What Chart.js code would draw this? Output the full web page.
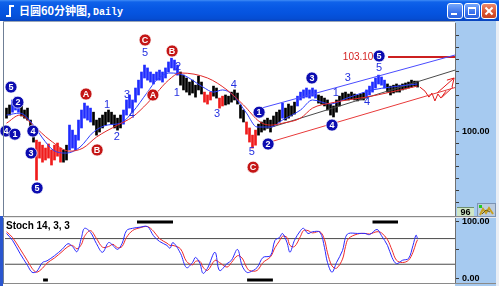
<!DOCTYPE html>
<html>
<head>
<meta charset="utf-8">
<script src="https://cdn.jsdelivr.net/npm/chart.js@4.4.1/dist/chart.umd.min.js"></script>
<style>
html,body{margin:0;padding:0;}
body{width:499px;height:286px;overflow:hidden;position:relative;background:#fff;}
#tb{position:absolute;left:0;top:0;width:499px;height:21px;
 background:linear-gradient(to bottom,#3f8cf6 0px,#0f62ea 2px,#0758e4 8px,#0553de 14px,#054dd2 19px,#0a42b8 21px);}
#ttl{position:absolute;left:19px;top:3px;color:#fff;font:bold 11px "Noto Sans CJK SC",sans-serif;line-height:15px;white-space:nowrap;}
#ttl .d{font:bold 10px "Liberation Mono",monospace;}
.ic{position:absolute;background:#fff;}
.btn{position:absolute;top:3px;width:14px;height:14px;border:1px solid #fff;border-radius:3px;
 background:linear-gradient(#76a8fb,#3a72ec 60%,#2b62e0);}
.btn.cl{background:linear-gradient(#ec8a6c,#d9532f 60%,#c64221);}
.g{position:absolute;background:#fff;}
#lf{position:absolute;left:0;top:216px;width:3px;height:70px;background:#2a56cf;}
#lline{position:absolute;left:3px;top:21px;width:1px;height:262px;background:#6f7f96;}
#tline{position:absolute;left:3px;top:21px;width:452px;height:1px;background:#9aa6b6;}
#sep1{position:absolute;left:3px;top:216px;width:493px;height:1px;background:#8a8a8a;}
#sep2{position:absolute;left:3px;top:217px;width:493px;height:1px;background:#e8e8e8;}
#bot{position:absolute;left:3px;top:283px;width:493px;height:1px;background:#8a8a8a;}
#rf{position:absolute;left:496px;top:21px;width:3px;height:265px;background:#e9eef5;}
canvas{position:absolute;left:0;}
#lo{position:absolute;left:457px;top:207px;width:17px;height:8px;background:#cfe6c6;border-top:1px solid #6f8f6f;
 font:bold 9px "Liberation Sans",sans-serif;line-height:9px;text-align:center;color:#000;}
#ico2{position:absolute;left:477px;top:203px;width:17px;height:12px;background:#b9cbe0;border:1px solid #7b93b3;}
</style>
</head>
<body>
<div id="tb">
  <div class="ic" style="left:9px;top:5px;width:2px;height:12px;"></div>
  <div class="ic" style="left:11px;top:5px;width:3px;height:2px;"></div>
  <div class="ic" style="left:6px;top:15px;width:3px;height:2px;"></div>
  <div id="ttl">日圆60分钟图, <span class="d">Daily</span></div>
  <div class="btn" style="left:447px;"><div class="g" style="left:3px;top:9px;width:6px;height:2px;"></div></div>
  <div class="btn" style="left:464px;"><div class="g" style="left:3px;top:3px;width:8px;height:2px;"></div>
    <div style="position:absolute;left:3px;top:3px;width:6px;height:6px;border:1px solid #fff;"></div></div>
  <div class="btn cl" style="left:481px;">
    <div class="g" style="left:2px;top:6px;width:10px;height:2px;transform:rotate(45deg);"></div>
    <div class="g" style="left:2px;top:6px;width:10px;height:2px;transform:rotate(-45deg);"></div></div>
</div>
<div id="lf"></div>
<div id="rf"></div>
<canvas id="main" width="499" height="197" style="top:21px"></canvas>
<canvas id="stoch" width="499" height="69" style="top:217px"></canvas>
<div id="lline"></div>
<div id="tline"></div>
<div id="sep1"></div>
<div id="sep2"></div>
<div id="bot"></div>
<div id="lo">96</div>
<div id="ico2">
 <svg width="17" height="12" style="position:absolute;left:0;top:0">
  <rect x="1" y="1" width="3" height="3" fill="#22cc22"/>
  <polyline points="2,11 5,5 8,9 11,4 15,10" fill="none" stroke="#c8a020" stroke-width="2"/>
  <polyline points="4,10 8,6 12,8" fill="none" stroke="#6a5a10" stroke-width="1"/>
 </svg>
</div>
<script>
// ---------------- DATA ----------------
const barCount = 150; // category slots incl. projection area
const highs = [100.96,101.09,101.30,101.42,101.30,101.05,100.88,100.96,100.46,100.13,
 99.62,99.54,99.41,99.29,99.46,99.21,99.41,99.50,99.29,99.21,
 99.41,100.25,100.04,99.83,100.46,100.88,101.17,101.05,100.96,100.79,
 100.46,100.54,100.67,100.79,100.88,100.79,100.67,100.54,100.67,100.88,
 101.30,101.51,101.30,101.80,102.13,102.47,102.76,102.64,102.47,102.38,
 102.47,102.55,102.47,102.64,102.89,103.05,102.97,102.76,102.47,102.34,
 102.22,102.05,102.13,101.92,102.30,102.05,101.63,101.51,101.63,101.88,
 101.80,101.38,101.46,101.51,101.46,101.63,101.72,101.59,101.09,100.88,
 100.38,100.13,99.83,100.04,100.29,100.38,100.46,100.54,100.46,100.63,
 100.79,100.88,101.17,100.96,101.13,101.05,101.21,101.46,101.63,101.72,
 101.80,101.72,101.80,101.72,101.51,101.46,101.38,101.30,101.13,101.05,
 101.30,101.46,101.59,101.63,101.55,101.63,101.55,101.51,101.55,101.59,
 101.72,101.88,102.05,102.22,102.34,102.26,102.13,101.97,101.88,101.92,
 101.97,101.92,101.97,102.01,102.05,102.13,102.09,102.09];
const lows = [100.54,100.67,100.79,100.88,100.79,100.63,100.54,100.46,99.83,99.54,
 97.95,98.87,98.70,98.79,98.87,98.58,98.79,98.95,98.70,98.70,
 98.79,99.21,99.29,99.21,99.62,100.13,100.54,100.46,100.38,100.25,
 99.83,99.96,100.13,100.25,100.38,100.29,100.13,100.04,100.13,100.29,
 100.67,100.96,100.79,101.21,101.51,101.80,102.22,102.13,102.05,101.97,
 102.13,102.13,102.05,102.22,102.47,102.64,102.55,102.34,101.92,101.72,
 101.63,101.51,101.59,101.42,101.72,101.55,101.21,101.13,101.30,101.46,
 101.38,100.96,101.05,101.09,101.13,101.21,101.30,101.13,100.54,100.38,
 99.87,99.54,99.29,99.41,99.83,99.96,100.04,100.13,99.96,100.21,
 100.29,100.38,100.54,100.46,100.54,100.63,100.71,101.05,101.30,101.38,
 101.42,101.38,101.46,101.38,101.17,101.13,101.05,100.88,100.67,100.59,
 100.79,101.05,101.30,101.30,101.30,101.34,101.30,101.26,101.30,101.30,
 101.38,101.51,101.63,101.80,101.97,101.92,101.80,101.63,101.51,101.59,
 101.63,101.63,101.72,101.76,101.80,101.84,101.88,101.84];
// wave phase per bar: run-length [phase, count]  (k = neutral, b = impulse up, r = decline)
const phaseRuns = [['k',2],['b',3],['k',5],['r',9],['k',2],['b',8],['k',10],['b',19],['k',8],['r',3],
 ['k',2],['r',2],['k',7],['r',4],['k',8],['b',1],['k',4],['b',7],['k',16],['b',7],['k',11]];

const maSlowIdx = [0,4.5,8.8,14.5,21,25.5,30,37,42,47,50,54,58,67,73.5,79,84.5,88,92,98,102,108,113.5,120,128,135.5,137];
const maSlow    = [100.33,100.67,100.25,99.62,99.16,99.29,99.75,100.25,100.59,101.17,101.59,102.13,102.43,102.22,101.72,101.09,100.38,100.25,100.33,100.54,100.96,101.17,101.30,101.42,101.63,101.84,101.88];
const maFastIdx = [0,4.5,9,12,15.5,20,24.5,29,33.5,38,42,47,50,54.5,59,65.5,69,72,75.5,80,83.5,88,92,98,102,108,113.5,122,128,137];
const maFast    = [100.67,100.75,100.25,99.71,99.21,99.08,99.33,99.96,100.25,100.33,100.79,101.63,102.13,102.43,102.34,101.84,101.63,101.72,101.51,100.75,100.17,100.17,100.46,100.88,101.30,101.13,101.38,101.72,101.84,101.97];

const upperChannel = [[83.8,100.92],[149.5,103.18]];
const midChannel   = [[86.2,100.08],[149.5,102.55]];
const lowerChannel = [[87.8,99.54],[149.5,101.82]];
const targetPrice  = 103.10;
const targetSpan   = [127.2,149.5];
const zigIdx   = [137.8,139.5,140.8,141.8,142.8,143.8,144.8,146.5];
const zigPrice = [101.84,101.67,101.42,101.59,101.26,101.55,101.38,101.67];
const arrowA = [[143.5,101.59],[149.2,102.22]];
const arrowB = [[145.2,101.42],[148.8,101.84]];
const arrowHead = [[146.8,102.13],[149.2,102.22],[148.5,101.84]];

const blueCircles = [[1.5,101.84,'5'],[3.8,101.21,'2'],[-0.2,100.0,'4'],[2.8,99.87,'1'],[8.8,100.0,'4'],
 [8.2,99.08,'3'],[10.2,97.62,'5'],[84.2,100.79,'1'],[87.2,99.46,'2'],[101.8,102.22,'3'],[108.5,100.25,'4'],[124.2,103.14,'5']];
const redCircles = [[26.5,101.55,'A'],[30.2,99.21,'B'],[46.2,103.81,'C'],[55.2,103.35,'B'],[48.8,101.51,'A'],[82.2,98.49,'C']];
const waveText = [[33.5,101.09,'1'],[36.8,99.75,'2'],[40.2,101.51,'3'],[41.8,100.67,'4'],[46.2,103.26,'5'],
 [57.2,102.68,'2'],[56.8,101.59,'1'],[70.2,100.71,'3'],[75.8,101.92,'4'],[81.8,99.12,'5'],
 [109.8,101.59,'1'],[113.8,102.22,'3'],[120.2,101.21,'4'],[124.2,102.64,'5']];
const priceTicks = [97,97.5,98,98.5,99,99.5,100,100.5,101,101.5,102,102.5,103,103.5,104];
const priceLabels = [[100,'100.00']];

const stochIdx = [0,2,4.5,7,8.5,10,12,13.5,16,18.5, 20.5,22,23.5,25,26,28,30,32,34,35.5,
 37,38.5,40,42,44.5,47,49,51,53.5,54.5, 55.5,58,60,62,63,64.5,65.5,67,69.5,71,
 73.5,75,77,78.5,80,81,83.5,85.5,88,89.5, 91,92,93.5,94.5,96,98,99,100.5,102,104.5,
 106,107,108.5,110,112,113,114,117,119.5,121, 123.5,125,127,128.5,130,132,134,135.5,136.5,137];
const stochK = [79,67,44,23,11,12,28,31,40,51, 61,56,47,72,88,81,61,46,63,58,
 51,61,84,88,90,91,75,65,58,53, 63,44,19,28,37,26,9,18,46,14,
 26,32,51,23,11,11,19,37,40,67, 72,79,63,46,67,84,88,79,82,81,
 54,28,11,28,49,72,79,79,79,77, 86,75,58,37,26,32,35,58,76,70];
const stochD = [82,72,52,31,18,11,18,27,36,47, 56,58,52,60,74,84,70,55,56,60,
 54,56,72,84,89,91,83,70,62,58, 58,52,30,24,30,30,20,14,32,28,
 20,28,40,36,20,14,14,28,38,54, 66,74,72,58,56,74,84,84,80,82,
 68,45,22,18,34,56,70,78,79,78, 82,80,68,50,32,28,32,46,62,68];
const stochLevels = [70,25];
const stochTicks = [0,50,100];
const stochLabels = [[100,'100.00'],[0,'0.00']];
const signalTop = [[43.5,55.5],[122,130.5]];
const signalBottom = [[12.2,13.8],[80.2,88.8]];

// ---------------- HELPERS ----------------
const phaseColor = {k:'#000000', b:'#1f2cff', r:'#f01c1c'};
const phases = phaseRuns.flatMap(([p,n]) => Array(n).fill(p));
const pts = (xs, ys) => xs.map((x,i)=>({x, y: ys[i]}));
const pairs = arr => arr.map(([x,y])=>({x,y}));
const lineDs = (data, color, w, extra) => Object.assign({type:'line', data, borderColor:color, borderWidth:w,
  pointRadius:0, fill:false, order:1}, extra||{});
const xAxis = {type:'linear', min:-0.5, max:barCount-0.5, display:false, offset:false, grid:{offset:false}};

function axisPanel(labels){ return {
  id:'axisPanel',
  beforeDraw(chart){
    const {ctx, chartArea:a} = chart;
    ctx.save(); ctx.fillStyle='#a6caf0';
    ctx.fillRect(a.right, 0, chart.width-3-a.right, chart.height);
    ctx.restore();
  },
  afterDraw(chart){
    const {ctx, chartArea:a, scales:{y}} = chart;
    ctx.save(); ctx.fillStyle='#000'; ctx.font='bold 9px "Liberation Sans"';
    ctx.textAlign='left'; ctx.textBaseline='middle';
    labels.forEach(([v,t])=>ctx.fillText(t, a.right+7, y.getPixelForValue(v)));
    ctx.restore();
  }
};}

const annot = {
  id:'annot',
  afterDatasetsDraw(chart){
    const {ctx, scales:{x,y}} = chart;
    ctx.save();
    ctx.textAlign='center'; ctx.textBaseline='middle';
    ctx.font='11px "Liberation Sans"'; ctx.fillStyle='#2430e0';
    waveText.forEach(([i,p,t])=>ctx.fillText(t, x.getPixelForValue(i), y.getPixelForValue(p)));
    const circ = (arr, fill) => arr.forEach(([i,p,t])=>{
      const cx = x.getPixelForValue(i), cy = y.getPixelForValue(p);
      ctx.beginPath(); ctx.arc(cx, cy, 6, 0, Math.PI*2);
      ctx.fillStyle=fill; ctx.fill();
      ctx.lineWidth=1; ctx.strokeStyle='rgba(255,255,255,0.7)'; ctx.stroke();
      ctx.fillStyle='#fff'; ctx.font='bold 9px "Liberation Sans"';
      ctx.fillText(t, cx, cy+0.5);
    });
    circ(blueCircles, '#0c0cb0');
    circ(redCircles, '#c41616');
    ctx.textAlign='right'; ctx.font='10px "Liberation Sans"'; ctx.fillStyle='#d42424';
    ctx.fillText('103.10', x.getPixelForValue(122.3), y.getPixelForValue(targetPrice));
    ctx.restore();
  }
};

// ---------------- MAIN CHART ----------------
new Chart(document.getElementById('main'), {
  type:'bar',
  data:{ datasets:[
    {type:'bar', data: highs.map((h,i)=>({x:i, y:[lows[i], h]})), backgroundColor: phases.map(p=>phaseColor[p]),
     barThickness:2, borderWidth:0, order:5},
    lineDs(pts(maSlowIdx, maSlow), '#e02828', 1, {cubicInterpolationMode:'monotone'}),
    lineDs(pts(maFastIdx, maFast), '#2b3cff', 1, {cubicInterpolationMode:'monotone'}),
    lineDs(pairs(upperChannel), '#4a4cff', 1),
    lineDs(pairs(midChannel), '#4a4a4a', 1),
    lineDs(pairs(lowerChannel), '#e83a3a', 1),
    lineDs([{x:targetSpan[0],y:targetPrice},{x:targetSpan[1],y:targetPrice}], '#cc2020', 2),
    lineDs(pts(zigIdx, zigPrice), '#e01818', 1),
    lineDs(pairs(arrowA), '#e01818', 1),
    lineDs(pairs(arrowB), '#e01818', 1),
    lineDs(pairs(arrowHead), '#e01818', 1)
  ]},
  options:{
    responsive:false, animation:false, events:[],
    layout:{padding:{left:5, top:2, right:3, bottom:3}},
    plugins:{legend:{display:false}, tooltip:{enabled:false}},
    scales:{
      x: xAxis,
      y:{position:'right', min:96.49, max:104.52,
         afterFit(s){ s.width = 41; },
         afterBuildTicks(s){ s.ticks = priceTicks.map(v=>({value:v})); },
         ticks:{display:false},
         grid:{drawOnChartArea:false, drawTicks:true, tickLength:4, color:'#3a3a3a'},
         border:{display:true, color:'#707070'}}
    }
  },
  plugins:[axisPanel(priceLabels), annot]
});

// ---------------- STOCH CHART ----------------
const segs = (list, v) => list.flatMap(([a,b])=>[{x:a,y:v},{x:b,y:v},{x:b+0.01,y:null}]);
const stochTitle = {
  id:'stochTitle',
  afterDraw(chart){
    const {ctx, chartArea:a} = chart;
    ctx.save(); ctx.fillStyle='#000'; ctx.font='bold 10px "Liberation Sans"';
    ctx.textAlign='left'; ctx.textBaseline='middle';
    ctx.fillText('Stoch 14, 3, 3', a.left+1, a.top+8);
    ctx.restore();
  }
};
new Chart(document.getElementById('stoch'), {
  type:'line',
  data:{ datasets:[
    ...stochLevels.map(v=>lineDs([{x:-0.5,y:v},{x:barCount-0.5,y:v}], '#4a4a4a', 1, {order:3})),
    lineDs(pts(stochIdx, stochD), '#ee2a2a', 1, {tension:0.35, order:2}),
    lineDs(pts(stochIdx, stochK), '#2a2aff', 1, {tension:0.35, order:1}),
    lineDs(segs(signalTop, 99), '#000', 3, {spanGaps:false}),
    lineDs(segs(signalBottom, -2.5), '#000', 3, {spanGaps:false})
  ]},
  options:{
    responsive:false, animation:false, events:[],
    layout:{padding:{left:5, top:1, right:3, bottom:3}},
    plugins:{legend:{display:false}, tooltip:{enabled:false}},
    scales:{
      x: xAxis,
      y:{position:'right', min:-7.9, max:106.1,
         afterFit(s){ s.width = 41; },
         afterBuildTicks(s){ s.ticks = stochTicks.map(v=>({value:v})); },
         ticks:{display:false},
         grid:{drawOnChartArea:false, drawTicks:true, tickLength:4, color:'#3a3a3a'},
         border:{display:true, color:'#707070'}}
    }
  },
  plugins:[axisPanel(stochLabels), stochTitle]
});
</script>
</body>
</html>
